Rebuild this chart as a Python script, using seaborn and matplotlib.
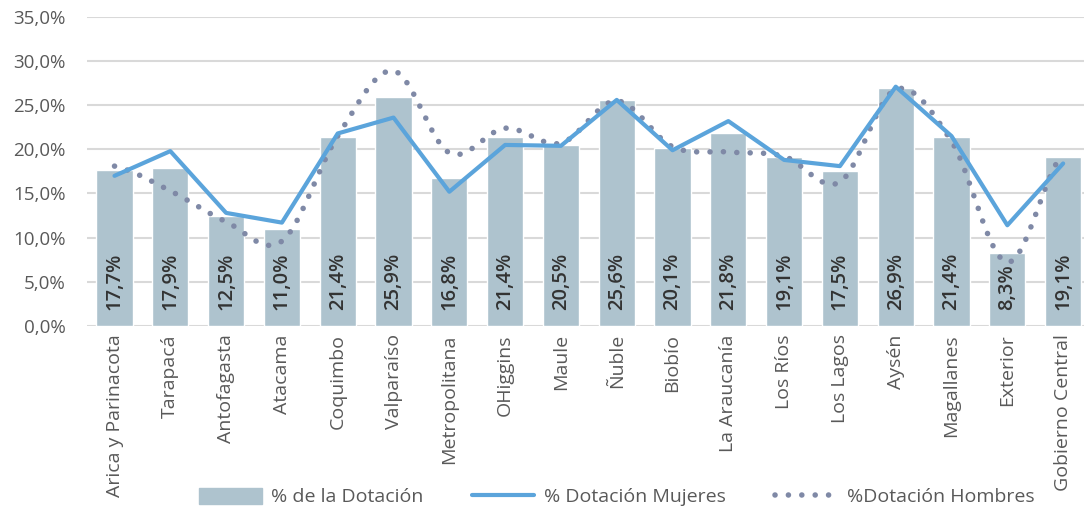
import numpy as np
import pandas as pd
import matplotlib
matplotlib.use("Agg")
import matplotlib.pyplot as plt
import seaborn as sns
from matplotlib.patches import Patch
from matplotlib.lines import Line2D

regiones = ['Arica y Parinacota', 'Tarapacá', 'Antofagasta', 'Atacama', 'Coquimbo',
            'Valparaíso', 'Metropolitana', 'OHiggins', 'Maule', 'Ñuble', 'Biobío',
            'La Araucanía', 'Los Ríos', 'Los Lagos', 'Aysén', 'Magallanes',
            'Exterior', 'Gobierno Central']
dotacion = [17.7, 17.9, 12.5, 11.0, 21.4, 25.9, 16.8, 21.4, 20.5, 25.6, 20.1,
            21.8, 19.1, 17.5, 26.9, 21.4, 8.3, 19.1]
mujeres = [17.0, 19.8, 12.8, 11.7, 21.8, 23.6, 15.2, 20.5, 20.4, 25.6, 19.9,
           23.2, 18.8, 18.1, 27.1, 21.5, 11.4, 18.4]
hombres = [18.1, 15.3, 11.8, 9.6, 21.5, 28.9, 19.6, 22.4, 20.7, 25.5, 20.3,
           19.7, 19.2, 16.3, 26.8, 20.9, 7.2, 19.5]
yticks = [0, 5, 10, 15, 20, 25, 30, 35]

BAR = '#AEC3CE'
MUJ = '#5BA4DB'
HOM = '#7F89A6'
TXT = '#595959'
DOTS = (0, (0.01, 2.4))

sns.set_theme(style='white')
plt.rcParams['font.family'] = ['Open Sans', 'DejaVu Sans']


def smooth(y, steps=20):
    # Catmull-Rom curve through the points, like Excel's smoothed line
    p = np.r_[y[0], y, y[-1]]
    xs, ys = [], []
    for i in range(1, len(p) - 2):
        t = np.linspace(0, 1, steps, endpoint=False)
        p0, p1, p2, p3 = p[i - 1], p[i], p[i + 1], p[i + 2]
        yy = 0.5 * ((2 * p1) + (-p0 + p2) * t + (2 * p0 - 5 * p1 + 4 * p2 - p3) * t ** 2
                    + (-p0 + 3 * p1 - 3 * p2 + p3) * t ** 3)
        xs.extend(i - 1 + t)
        ys.extend(yy)
    xs.append(len(y) - 1)
    ys.append(y[-1])
    return np.array(xs), np.array(ys)


df = pd.DataFrame({'region': regiones, 'dotacion': dotacion})

fig = plt.figure(figsize=(10.84, 5.14), dpi=100)
ax = fig.add_axes([0.0799, 0.366, 0.9266, 0.601])

sns.barplot(data=df, x='region', y='dotacion', color=BAR, width=0.65,
            saturation=1, ax=ax, zorder=2)

for i, v in enumerate(dotacion):
    ax.text(i, 1.8, f'{v:.1f}%'.replace('.', ','), rotation=90, ha='center',
            va='bottom', fontsize=14.5, fontweight='semibold', color='#333333', zorder=5)

xs, ys = smooth(np.array(hombres))
ax.plot(xs, ys, color=HOM, lw=4, linestyle=DOTS,
        dash_capstyle='round', solid_capstyle='round', zorder=3)
sns.lineplot(x=np.arange(len(mujeres)), y=mujeres, color=MUJ, lw=3, ax=ax, zorder=4)

ax.set_ylim(0, 35)
ax.set_xlim(-0.5, len(regiones) - 0.5)
ax.set_yticks(yticks)
ax.set_yticklabels([f'{t:.1f}%'.replace('.', ',') for t in yticks], fontsize=13.5, color=TXT)
ax.set_xticks(range(len(regiones)))
ax.set_xticklabels(regiones, rotation=90, fontsize=14, color=TXT)
ax.tick_params(axis='y', length=0, pad=15)
ax.tick_params(axis='x', length=0, pad=6)
ax.set_xlabel('')
ax.set_ylabel('')
ax.grid(axis='y', color='#D9D9D9', lw=1.5, zorder=0)
ax.set_axisbelow(True)
for s in ax.spines.values():
    s.set_visible(False)

handles = [Patch(color=BAR),
           Line2D([], [], color=MUJ, lw=3),
           Line2D([], [], color=HOM, lw=4, linestyle=DOTS, dash_capstyle='round')]
labels = ['% de la Dotación', '% Dotación Mujeres', '%Dotación Hombres']
fig.legend(handles, labels, loc='center', bbox_to_anchor=(0.569, 0.033), ncol=3,
           frameon=False, fontsize=14, labelcolor=TXT, handlelength=3.2,
           handleheight=0.9, columnspacing=2.5, handletextpad=0.5)

fig.savefig('out.png', dpi=100)
